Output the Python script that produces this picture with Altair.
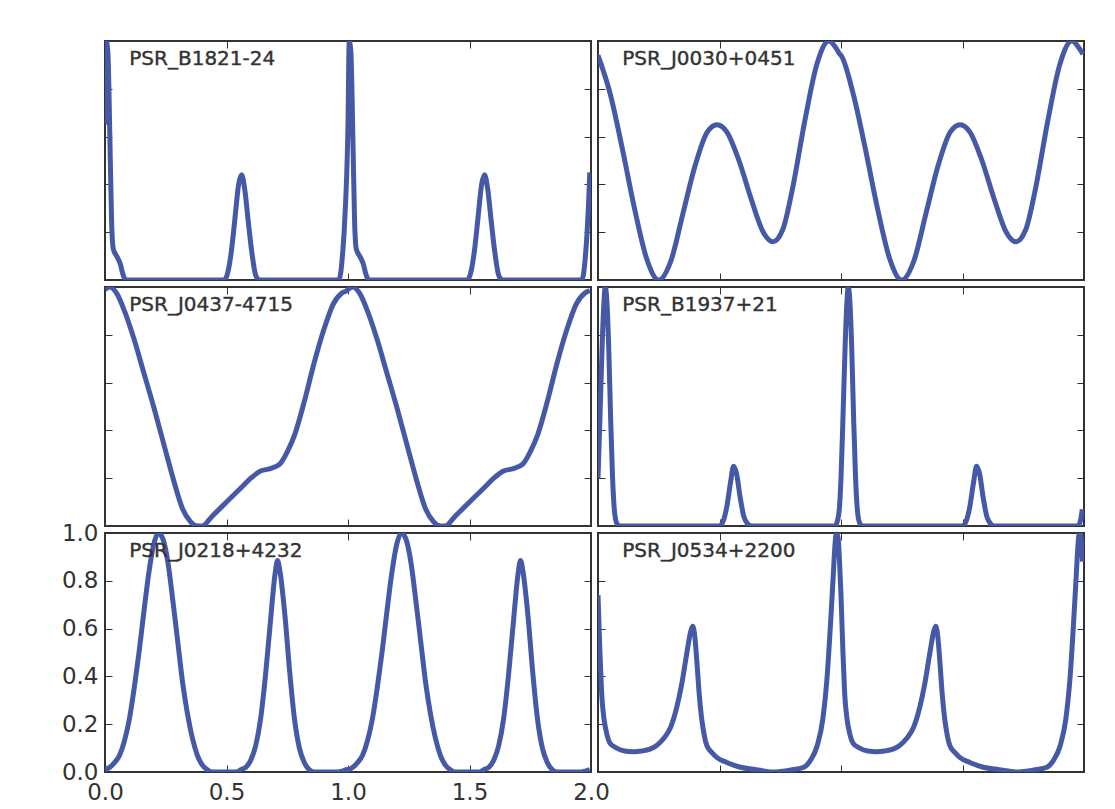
import altair as alt
import pandas as pd

names = ["PSR_B1821-24", "PSR_J0030+0451", "PSR_J0437-4715",
         "PSR_B1937+21", "PSR_J0218+4232", "PSR_J0534+2200"]

# one rotation of each profile (phase 0..1)
b1821_phase = [0.000, 0.005, 0.012, 0.020, 0.027, 0.034, 0.048, 0.062, 0.075, 0.085,
               0.490, 0.505, 0.520, 0.535, 0.550, 0.562, 0.575, 0.590, 0.605, 0.620, 0.635,
               0.962, 0.970, 0.977, 0.984, 0.990, 0.995]
b1821_flux = [0.65, 1.00, 0.95, 0.60, 0.25, 0.13, 0.10, 0.07, 0.02, 0.00,
              0.00, 0.03, 0.12, 0.26, 0.40, 0.44, 0.38, 0.24, 0.11, 0.02, 0.00,
              0.00, 0.03, 0.10, 0.20, 0.32, 0.45]

j0030_phase = [0.00, 0.05, 0.10, 0.15, 0.20, 0.25, 0.30, 0.35, 0.40, 0.45, 0.49,
               0.53, 0.58, 0.63, 0.68, 0.72, 0.76, 0.80, 0.85, 0.90, 0.95, 0.98, 0.995]
j0030_flux = [0.94, 0.78, 0.55, 0.30, 0.09, 0.00, 0.08, 0.28, 0.48, 0.62, 0.65,
              0.62, 0.50, 0.34, 0.20, 0.16, 0.21, 0.38, 0.66, 0.90, 1.00, 0.97, 0.945]

j0437_phase = [0.00, 0.02, 0.05, 0.08, 0.12, 0.16, 0.20, 0.24, 0.28, 0.32, 0.35, 0.38,
               0.40, 0.44, 0.48, 0.52, 0.56, 0.60, 0.64, 0.68, 0.72, 0.75, 0.78, 0.82,
               0.86, 0.90, 0.94, 0.975, 0.995]
j0437_flux = [0.99, 1.00, 0.97, 0.90, 0.78, 0.64, 0.50, 0.35, 0.20, 0.07, 0.02, 0.00,
              0.00, 0.04, 0.08, 0.12, 0.16, 0.20, 0.23, 0.24, 0.26, 0.31, 0.38, 0.52,
              0.68, 0.82, 0.93, 0.975, 0.985]

b1937_phase = [0.000, 0.008, 0.016, 0.024, 0.030, 0.036, 0.044, 0.052, 0.060, 0.068,
               0.078, 0.090, 0.500, 0.515, 0.530, 0.545, 0.558, 0.570, 0.585, 0.600,
               0.615, 0.630, 0.975, 0.985, 0.993]
b1937_flux = [0.20, 0.45, 0.72, 0.93, 1.00, 0.95, 0.75, 0.45, 0.20, 0.06,
              0.01, 0.00, 0.00, 0.02, 0.08, 0.18, 0.25, 0.22, 0.12, 0.04,
              0.01, 0.00, 0.00, 0.02, 0.07]

j0218_phase = [0.00, 0.02, 0.04, 0.06, 0.08, 0.10, 0.12, 0.14, 0.16, 0.18, 0.20, 0.22,
               0.24, 0.26, 0.28, 0.30, 0.32, 0.34, 0.36, 0.38, 0.40, 0.42, 0.44, 0.54,
               0.56, 0.58, 0.60, 0.62, 0.64, 0.66, 0.68, 0.70, 0.71, 0.72, 0.74, 0.76,
               0.78, 0.80, 0.82, 0.84, 0.86, 0.96, 0.98, 0.995]
j0218_flux = [0.01, 0.02, 0.04, 0.07, 0.13, 0.22, 0.35, 0.50, 0.67, 0.83, 0.95, 1.00,
              0.97, 0.87, 0.71, 0.54, 0.37, 0.24, 0.14, 0.07, 0.03, 0.01, 0.00, 0.00,
              0.01, 0.02, 0.05, 0.11, 0.22, 0.40, 0.62, 0.83, 0.885, 0.84, 0.66, 0.42,
              0.22, 0.10, 0.04, 0.01, 0.00, 0.00, 0.005, 0.01]

j0534_phase = [0.000, 0.008, 0.015, 0.025, 0.036, 0.050, 0.077, 0.110, 0.146, 0.180,
               0.214, 0.240, 0.270, 0.300, 0.324, 0.345, 0.366, 0.382, 0.390, 0.398,
               0.407, 0.417, 0.427, 0.438, 0.448, 0.470, 0.490, 0.530, 0.586, 0.650,
               0.720, 0.800, 0.847, 0.875, 0.902, 0.925, 0.943, 0.958, 0.968, 0.976,
               0.981, 0.988, 0.994]
j0534_flux = [0.74, 0.50, 0.33, 0.22, 0.16, 0.12, 0.10, 0.088, 0.085, 0.088,
              0.096, 0.11, 0.14, 0.19, 0.27, 0.37, 0.50, 0.59, 0.61, 0.57,
              0.46, 0.32, 0.22, 0.15, 0.11, 0.08, 0.06, 0.04, 0.02, 0.01,
              0.00, 0.01, 0.02, 0.05, 0.11, 0.22, 0.40, 0.64, 0.82, 0.96,
              1.00, 0.98, 0.88]

profiles = [(b1821_phase, b1821_flux), (j0030_phase, j0030_flux),
            (j0437_phase, j0437_flux), (b1937_phase, b1937_flux),
            (j0218_phase, j0218_flux), (j0534_phase, j0534_flux)]

tick_x = [0.0, 0.5, 1.0, 1.5, 2.0]
tick_y = [0.0, 0.2, 0.4, 0.6, 0.8, 1.0]

LINE = "#4659a7"
INK = "#333333"
W, H = 486, 239
TICK = 7


def panel(idx):
    ph, fl = profiles[idx]
    rows = []
    for k in (0, 1):
        for p, v in zip(ph, fl):
            rows.append({"phase": p + k, "flux": v})
    df = pd.DataFrame(rows)
    show_labels = idx == 4
    xs = alt.Scale(domain=[0, 2], nice=False, zero=False)
    ys = alt.Scale(domain=[0, 1], nice=False, zero=False)

    common = dict(domain=False, grid=False, title=None, tickSize=TICK, offset=-TICK,
                  tickColor=INK, tickWidth=1, labelColor=INK, labelFontSize=23,
                  labelFont="DejaVu Sans", format=".1f")

    line = alt.Chart(df).mark_line(color=LINE, strokeWidth=5, clip=True,
                                   interpolate="monotone", strokeJoin="round").encode(
        x=alt.X("phase:Q", scale=xs,
                axis=alt.Axis(orient="bottom", values=tick_x, labels=show_labels,
                              labelPadding=9, labelFlush=False, **common)),
        y=alt.Y("flux:Q", scale=ys,
                axis=alt.Axis(orient="left", values=tick_y, labels=show_labels,
                              labelPadding=7, labelFlush=False, **common)),
    )
    lab = pd.DataFrame({"phase": [0.1], "flux": [0.925], "name": [names[idx]]})
    text = alt.Chart(lab).mark_text(align="left", baseline="middle", fontSize=20,
                                    font="DejaVu Sans", color=INK, stroke=INK,
                                    strokeWidth=0.4).encode(
        x=alt.X("phase:Q", scale=xs,
                axis=alt.Axis(orient="top", values=tick_x, labels=False, **common)),
        y=alt.Y("flux:Q", scale=ys,
                axis=alt.Axis(orient="right", values=tick_y, labels=False, **common)),
        text="name:N",
    )
    return alt.layer(line, text).resolve_axis(x="independent", y="independent").properties(
        width=W, height=H)


chart = alt.concat(*[panel(i) for i in range(6)], columns=2, spacing=7,
                   bounds="flush").properties(
    padding={"left": 52, "top": 31, "right": 5, "bottom": 5}
).configure(
    font="DejaVu Sans", background="white",
    view=alt.ViewConfig(stroke=INK, strokeWidth=2),
)

chart.save("out.html", embed_options={"renderer": "svg", "actions": False})
